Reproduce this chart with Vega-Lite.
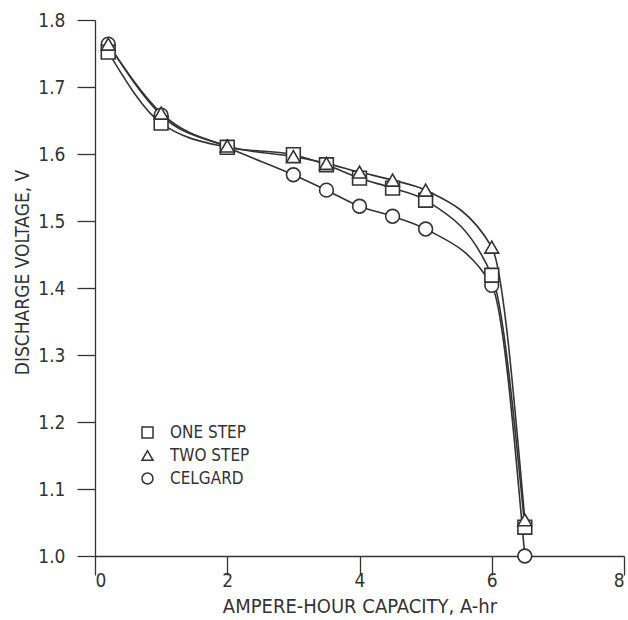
{
  "$schema": "https://vega.github.io/schema/vega-lite/v6.json",
  "width": 529,
  "height": 536,
  "autosize": "none",
  "padding": {"left": 95, "top": 20, "right": 4, "bottom": 64},
  "background": "white",
  "config": {
    "view": {"stroke": null},
    "font": "Liberation Sans Narrow, DejaVu Sans Condensed, Roboto Condensed, Liberation Sans, sans-serif",
    "axis": {
      "grid": false,
      "domainColor": "#333",
      "domainWidth": 1.3,
      "tickColor": "#333",
      "tickWidth": 1.3,
      "labelColor": "#333",
      "titleColor": "#333",
      "labelFontSize": 19,
      "titleFontSize": 19,
      "titleFontWeight": "normal"
    }
  },
  "data": {
    "values": [
      {"x": 0.2, "v": 1.764, "s": "CELGARD"},
      {"x": 1.0, "v": 1.658, "s": "CELGARD"},
      {"x": 2.0, "v": 1.610, "s": "CELGARD"},
      {"x": 3.0, "v": 1.569, "s": "CELGARD"},
      {"x": 3.5, "v": 1.546, "s": "CELGARD"},
      {"x": 4.0, "v": 1.522, "s": "CELGARD"},
      {"x": 4.5, "v": 1.507, "s": "CELGARD"},
      {"x": 5.0, "v": 1.488, "s": "CELGARD"},
      {"x": 6.0, "v": 1.404, "s": "CELGARD"},
      {"x": 6.5, "v": 1.000, "s": "CELGARD"},
      {"x": 0.2, "v": 1.752, "s": "ONE STEP"},
      {"x": 1.0, "v": 1.646, "s": "ONE STEP"},
      {"x": 2.0, "v": 1.610, "s": "ONE STEP"},
      {"x": 3.0, "v": 1.599, "s": "ONE STEP"},
      {"x": 3.5, "v": 1.584, "s": "ONE STEP"},
      {"x": 4.0, "v": 1.564, "s": "ONE STEP"},
      {"x": 4.5, "v": 1.549, "s": "ONE STEP"},
      {"x": 5.0, "v": 1.531, "s": "ONE STEP"},
      {"x": 6.0, "v": 1.419, "s": "ONE STEP"},
      {"x": 6.5, "v": 1.043, "s": "ONE STEP"},
      {"x": 0.2, "v": 1.764, "s": "TWO STEP"},
      {"x": 1.0, "v": 1.661, "s": "TWO STEP"},
      {"x": 2.0, "v": 1.612, "s": "TWO STEP"},
      {"x": 3.0, "v": 1.596, "s": "TWO STEP"},
      {"x": 3.5, "v": 1.586, "s": "TWO STEP"},
      {"x": 4.0, "v": 1.573, "s": "TWO STEP"},
      {"x": 4.5, "v": 1.561, "s": "TWO STEP"},
      {"x": 5.0, "v": 1.546, "s": "TWO STEP"},
      {"x": 6.0, "v": 1.461, "s": "TWO STEP"},
      {"x": 6.5, "v": 1.054, "s": "TWO STEP"}
    ]
  },
  "encoding": {
    "x": {
      "field": "x",
      "type": "quantitative",
      "scale": {"domain": [0, 8], "nice": false, "zero": false},
      "axis": {
        "title": "AMPERE-HOUR CAPACITY, A-hr",
        "values": [0, 2, 4, 6, 8],
        "tickSize": 19,
        "labelPadding": 11,
        "labelBaseline": "alphabetic",
        "titleBaseline": "alphabetic",
        "titleFontSize": 20,
        "titleY": 56,
        "encode": {
          "ticks": {
            "enter": {"y2": {"value": -19}},
            "update": {"y2": {"value": -19}}
          }
        }
      }
    },
    "y": {
      "field": "v",
      "type": "quantitative",
      "scale": {"domain": [1.0, 1.8], "nice": false, "zero": false},
      "axis": {
        "title": "DISCHARGE VOLTAGE, V",
        "values": [1.0, 1.1, 1.2, 1.3, 1.4, 1.5, 1.6, 1.7, 1.8],
        "format": ".1f",
        "tickSize": 18,
        "labelPadding": 12,
        "titleBaseline": "alphabetic",
        "titleX": -67,
        "titleY": 252,
        "encode": {
          "ticks": {
            "enter": {"x2": {"value": 18}},
            "update": {"x2": {"value": 18}}
          }
        }
      }
    }
  },
  "layer": [
    {
      "mark": {"type": "line", "interpolate": "monotone", "color": "#333", "strokeWidth": 1.6},
      "encoding": {"detail": {"field": "s"}}
    },
    {
      "mark": {"type": "point", "size": 190, "filled": true, "fill": "white", "stroke": "#333", "strokeWidth": 1.6, "opacity": 1, "fillOpacity": 1, "strokeOpacity": 1},
      "encoding": {
        "shape": {
          "field": "s",
          "type": "nominal",
          "scale": {"domain": ["ONE STEP", "TWO STEP", "CELGARD"], "range": ["square", "triangle-up", "circle"]},
          "legend": {
            "title": null,
            "orient": "none",
            "legendX": 44,
            "legendY": 404,
            "padding": 0,
            "symbolSize": 121,
            "labelFontSize": 17,
            "labelColor": "#333",
            "labelOffset": 14,
            "rowPadding": 5,
            "encode": {
              "symbols": {
                "update": {
                  "stroke": {"value": "#333"},
                  "fill": {"value": "white"},
                  "strokeWidth": {"value": 1.5},
                  "opacity": {"value": 1},
                  "fillOpacity": {"value": 1},
                  "strokeOpacity": {"value": 1}
                }
              }
            }
          }
        }
      }
    }
  ]
}
